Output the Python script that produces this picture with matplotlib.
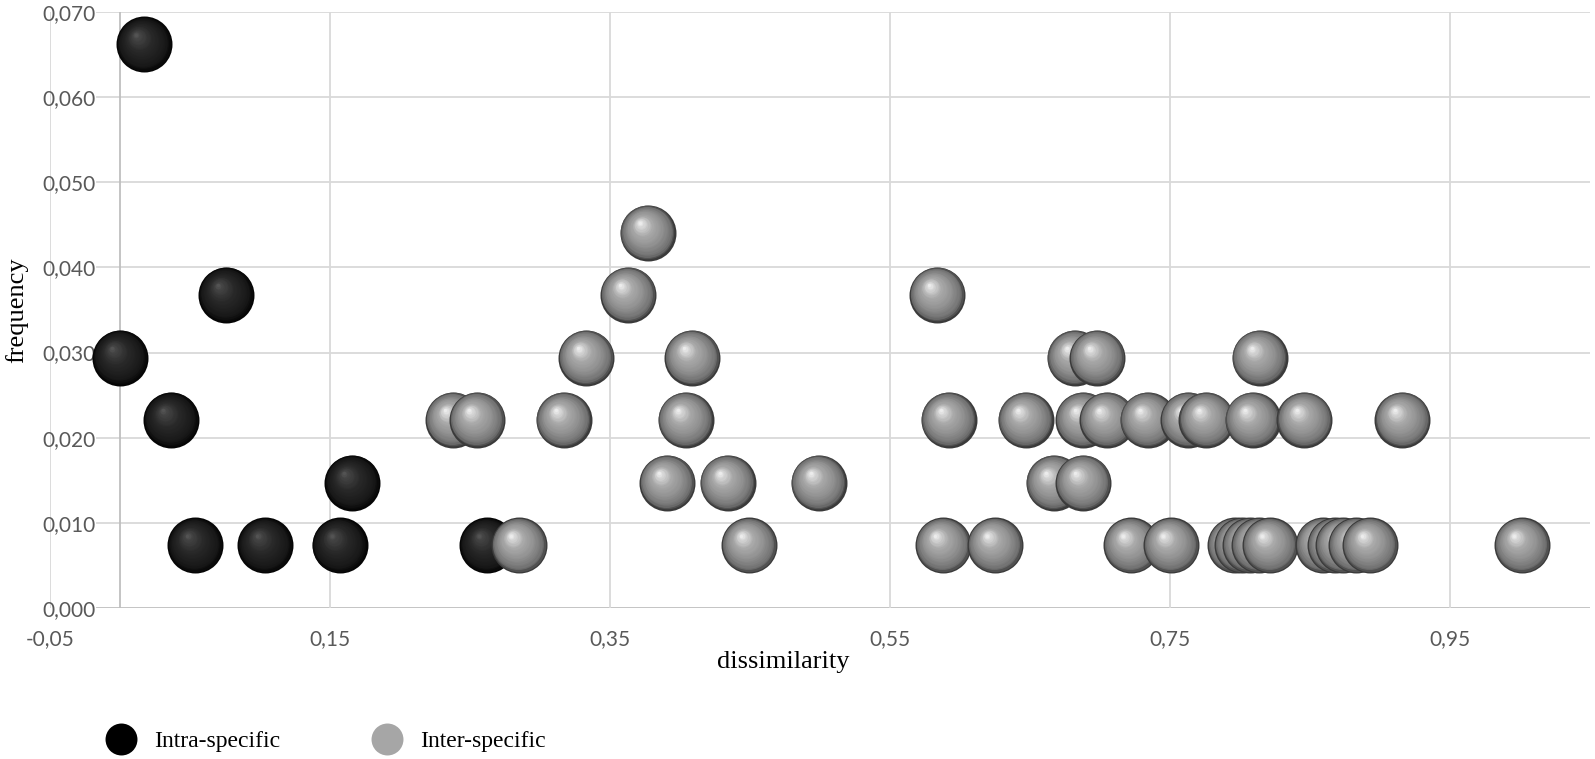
import numpy as np
import matplotlib
matplotlib.use("Agg")
import matplotlib.pyplot as plt
import matplotlib.transforms as mtransforms
from matplotlib.lines import Line2D
from matplotlib.colors import LinearSegmentedColormap

# ---------------- data ----------------
intra_x = [0.0000, 0.0171, 0.0364, 0.0536, 0.0757, 0.1036, 0.1568, 0.1657, 0.2621]
intra_y = [0.0294, 0.0662, 0.0221, 0.0074, 0.0368, 0.0074, 0.0074, 0.0147, 0.0074]

inter_x = [0.285, 0.4493, 0.588, 0.625, 0.7221, 0.7507, 0.7964, 0.8014, 0.8071, 0.8136,
           0.8214, 0.8593, 0.8679, 0.8736, 0.8829, 0.8929, 1.0014,
           0.3907, 0.434, 0.499, 0.667, 0.688,
           0.238, 0.255, 0.317, 0.404, 0.592, 0.647, 0.688, 0.705, 0.734, 0.763,
           0.776, 0.809, 0.846, 0.916,
           0.333, 0.4086, 0.682, 0.698, 0.814,
           0.3629, 0.5836,
           0.377]
inter_y = [0.0074] * 17 + [0.0147] * 5 + [0.0221] * 14 + [0.0294] * 5 + [0.0368] * 2 + [0.0441]

xticks = [-0.05, 0.15, 0.35, 0.55, 0.75, 0.95]
xtick_labels = ["-0,05", "0,15", "0,35", "0,55", "0,75", "0,95"]
yticks = [0.00, 0.01, 0.02, 0.03, 0.04, 0.05, 0.06, 0.07]
ytick_labels = ["0,000", "0,010", "0,020", "0,030", "0,040", "0,050", "0,060", "0,070"]

series_names = ["Intra-specific", "Inter-specific"]
legend_colors = ["#000000", "#a6a6a6"]

# ---------------- figure ----------------
W, H = 1595, 759
fig = plt.figure(figsize=(W / 100, H / 100), dpi=100)
ax = fig.add_axes([50 / W, 1 - 608 / H, 1540 / W, 596 / H])
ax.set_xlim(-0.05, 1.05)
ax.set_ylim(0, 0.07)
for s in ax.spines.values():
    s.set_visible(False)

grid_c = "#d9d9d9"
ax.set_xticks(xticks)
ax.set_xticklabels(xtick_labels)
ax.set_yticks(yticks)
ax.set_yticklabels(ytick_labels)
ax.grid(axis="x", color=grid_c, lw=1.3, zorder=0)
lab_frac = 47 / 1540
for yv in yticks[1:]:
    ax.axhline(yv, xmin=lab_frac, color=grid_c, lw=1.3, zorder=0)
ax.axhline(0, xmin=lab_frac, color="#bfbfbf", lw=1.3, zorder=0.5)
ax.axvline(0, color="#bfbfbf", lw=1.3, zorder=0.5)

ax.tick_params(axis="x", length=0, pad=15, labelsize=15, labelcolor="#595959")
ax.tick_params(axis="y", length=0, pad=-33, labelsize=15, labelcolor="#595959")
for lbl in ax.get_xticklabels() + ax.get_yticklabels():
    lbl.set_family("Lato")

ax.set_xlabel("dissimilarity", family="Liberation Serif", fontsize=19, color="black")
ax.xaxis.set_label_coords(733 / 1540, -43 / 596)
ax.set_ylabel("frequency", family="Liberation Serif", fontsize=19, color="black")
ax.yaxis.set_label_coords(-22 / 1540, 0.5)

# ---------------- shaded spheres ----------------
gray_cmap = LinearSegmentedColormap.from_list(
    "g", [(0, "#3a3a3a"), (0.10, "#707070"), (0.35, "#909090"), (0.62, "#a8a8a8"),
          (0.85, "#d6d6d6"), (1.0, "#fbfbfb")])
black_cmap = LinearSegmentedColormap.from_list(
    "b", [(0, "#050505"), (0.15, "#181818"), (0.55, "#2a2a2a"), (0.85, "#444444"),
          (1.0, "#5c5c5c")])

SIZE = 1625.0  # marker area (pt^2) -> ~56 px diameter
r_pt = np.sqrt(SIZE) / 2
hx, hy = -0.30, 0.36
NL = 22


def draw_series(xs, ys, cmap, z0):
    order = np.argsort(xs, kind="stable")
    for j, i in enumerate(order):
        x, y = xs[i], ys[i]
        for k in range(NL):
            t = k / (NL - 1) * 0.94
            rad = r_pt * (1 - t)
            dx, dy = t * hx * r_pt, t * hy * r_pt
            tr = ax.transData + mtransforms.ScaledTranslation(dx / 72, dy / 72, fig.dpi_scale_trans)
            ax.scatter([x], [y], s=(2 * rad) ** 2, color=cmap(t), lw=0,
                       transform=tr, zorder=z0 + j * 0.01 + k * 1e-4)


draw_series(intra_x, intra_y, black_cmap, 2)
draw_series(inter_x, inter_y, gray_cmap, 3)

# ---------------- legend ----------------
handles = [Line2D([], [], ls="none", marker="o", markersize=23, markerfacecolor=c,
                  markeredgewidth=0) for c in legend_colors]
fig.legend(handles, series_names, ncol=2, loc="center left",
           bbox_to_anchor=(107 / W, 1 - 741 / H), frameon=False, borderpad=0,
           borderaxespad=0, handlelength=1.2, handletextpad=0.8, columnspacing=3.9,
           prop=dict(family="Liberation Serif", size=17))

fig.savefig("out.png", dpi=100)
